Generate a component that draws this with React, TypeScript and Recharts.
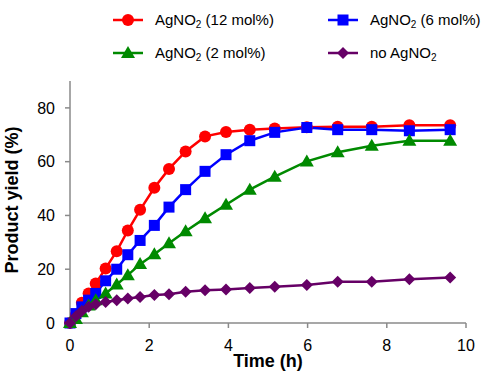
import React from 'react';
import { LineChart, Line, XAxis, YAxis, Label } from 'recharts';

// sampling times (h) and yields (%)
const times = [0, 0.15, 0.3, 0.47, 0.65, 0.9, 1.18, 1.46, 1.77, 2.13, 2.5, 2.92, 3.41, 3.94, 4.54, 5.17, 5.98, 6.76, 7.62, 8.57, 9.6];
const yield12 = [0, 3, 7.5, 11, 14.7, 20.3, 26.7, 34.4, 42.1, 50.3, 57.3, 63.8, 69.4, 71, 71.9, 72.3, 72.8, 73, 73, 73.5, 73.5];
const yield6 = [0, 3.5, 6, 8.5, 11, 15.7, 20, 25.4, 30.7, 36.3, 43.1, 49.6, 56.4, 62.6, 67.8, 70.9, 72.7, 71.9, 71.9, 71.5, 71.9];
const yield2 = [0, 1.5, 4, 6.5, 8.5, 11, 14.3, 17.8, 21.9, 25.6, 29.7, 34.1, 39, 44, 49.6, 54.4, 60.1, 63.5, 65.9, 67.8, 67.8];
const yieldNone = [0, 2.5, 4.5, 6, 7, 7.8, 8.5, 9.1, 9.7, 10.4, 10.7, 11.6, 12.2, 12.5, 13, 13.5, 14.1, 15.3, 15.3, 16.3, 16.9];

const xTicks = [0, 2, 4, 6, 8, 10];
const yTicks = [0, 20, 40, 60, 80];

const data = times.map((t, i) => ({
  t,
  s12: yield12[i],
  s6: yield6[i],
  s2: yield2[i],
  s0: yieldNone[i],
}));

const FONT = '"Liberation Sans", Arial, Helvetica, sans-serif';
const RED = '#ff0000';
const BLUE = '#0000ff';
const GREEN = '#008a00';
const PURPLE = '#660066';

const marker = (kind: string, cx: number, cy: number, color: string, key?: string) => {
  if (kind === 'circle') return <circle key={key} cx={cx} cy={cy} r={6} fill={color} />;
  if (kind === 'square') return <rect key={key} x={cx - 5.5} y={cy - 5.5} width={11} height={11} fill={color} />;
  if (kind === 'triangle')
    return <polygon key={key} points={`${cx},${cy - 7} ${cx + 7},${cy + 5} ${cx - 7},${cy + 5}`} fill={color} />;
  return <polygon key={key} points={`${cx},${cy - 6} ${cx + 6},${cy} ${cx},${cy + 6} ${cx - 6},${cy}`} fill={color} />;
};

const makeDot = (kind: string, color: string) => (props: any) =>
  marker(kind, props.cx, props.cy, color, `${kind}-${props.index}`);

const legendItems = [
  { name: '(12 mol%)', color: RED, kind: 'circle', left: 113, top: 20 },
  { name: '(6 mol%)', color: BLUE, kind: 'square', left: 328, top: 20 },
  { name: '(2 mol%)', color: GREEN, kind: 'triangle', left: 113, top: 53 },
  { name: 'none', color: PURPLE, kind: 'diamond', left: 328, top: 53 },
];

const LegendBox = () => (
  <>
    {legendItems.map((it) => (
      <div key={it.name}>
        <svg
          width={30}
          height={16}
          style={{ position: 'absolute', left: it.left, top: it.top - 8 }}
        >
          <line x1={0} y1={8} x2={30} y2={8} stroke={it.color} strokeWidth={2.5} />
          {marker(it.kind, 15, 8, it.color)}
        </svg>
        <div
          style={{
            position: 'absolute',
            left: it.left + 42,
            top: it.top - 8,
            fontSize: 15,
            lineHeight: '15px',
            whiteSpace: 'nowrap',
            color: '#000',
          }}
        >
          {it.name === 'none' ? 'no ' : ''}AgNO
          <span style={{ fontSize: 10, position: 'relative', top: 3 }}>2</span>
          {it.name === 'none' ? '' : ' ' + it.name}
        </div>
      </div>
    ))}
  </>
);

export default function App() {
  return (
    <div style={{ position: 'absolute', left: 0, top: 0, width: 484, height: 389, background: '#fff', fontFamily: FONT }}>
      <LegendBox />
      <LineChart width={484} height={389} data={data} margin={{ top: 81, right: 18, left: 0, bottom: 26 }}>
        <XAxis
          dataKey="t"
          type="number"
          domain={[0, 10]}
          ticks={xTicks}
          stroke="#8a8a8a"
          strokeWidth={1.5}
          tickSize={5}
          tickMargin={12}
          height={40}
          tick={{ fill: '#000', fontSize: 16, fontFamily: FONT }}
        >
          <Label
            content={() => (
              <text x={268} y={367} textAnchor="middle" fontSize={18} fontWeight="bold" fontFamily={FONT} fill="#000">
                Time (h)
              </text>
            )}
          />
        </XAxis>
        <YAxis
          type="number"
          domain={[0, 90]}
          ticks={yTicks}
          width={70}
          stroke="#8a8a8a"
          strokeWidth={1.5}
          tickSize={5}
          tickMargin={10}
          tick={{ fill: '#000', fontSize: 16, fontFamily: FONT }}
        >
          <Label
            content={() => (
              <text
                x={18}
                y={200}
                transform="rotate(-90 18 200)"
                textAnchor="middle"
                fontSize={18}
                fontWeight="bold"
                fontFamily={FONT}
                fill="#000"
              >
                Product yield (%)
              </text>
            )}
          />
        </YAxis>
        <Line dataKey="s12" stroke={RED} strokeWidth={2.5} dot={makeDot('circle', RED)} isAnimationActive={false} />
        <Line dataKey="s6" stroke={BLUE} strokeWidth={2.5} dot={makeDot('square', BLUE)} isAnimationActive={false} />
        <Line dataKey="s2" stroke={GREEN} strokeWidth={2.5} dot={makeDot('triangle', GREEN)} isAnimationActive={false} />
        <Line dataKey="s0" stroke={PURPLE} strokeWidth={2.5} dot={makeDot('diamond', PURPLE)} isAnimationActive={false} />
      </LineChart>
    </div>
  );
}
